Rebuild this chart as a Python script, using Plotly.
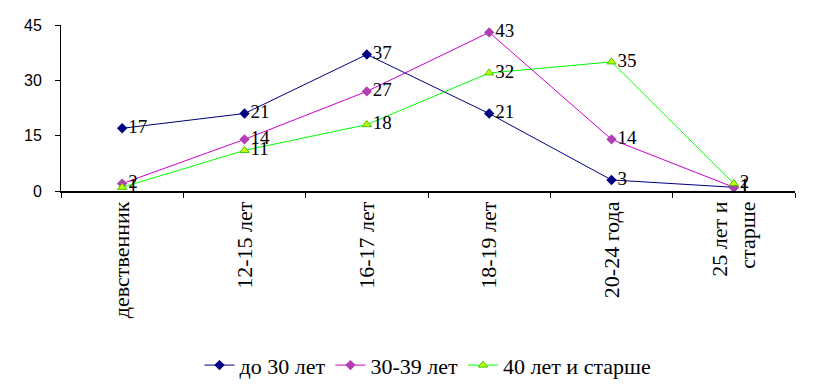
import plotly.graph_objects as go

categories = ["девственник", "12-15 лет", "16-17 лет", "18-19 лет", "20-24 года", "25 лет и<br>старше"]
series_names = ["до 30 лет", "30-39 лет", "40 лет и старше"]
s_under30 = [17, 21, 37, 21, 3, 1]
s_30_39 = [2, 14, 27, 43, 14, 1]
s_40plus = [1, 11, 18, 32, 35, 2]
y_ticks = [0, 15, 30, 45]

styles = [
    dict(line=dict(color="#000080", width=1), marker=dict(symbol="diamond", size=8, color="#000080")),
    dict(line=dict(color="#CC00CC", width=1), marker=dict(symbol="diamond", size=8, color="#B040B0")),
    dict(line=dict(color="#00FF00", width=1), marker=dict(symbol="triangle-up", size=8, color="#CCFF00",
                                                          line=dict(color="#33CC00", width=1))),
]

fig = go.Figure()
for name, vals, st in zip(series_names, [s_under30, s_30_39, s_40plus], styles):
    fig.add_trace(go.Scatter(
        x=categories, y=vals, name=name, mode="lines+markers+text",
        text=[str(v) for v in vals], textposition="middle right",
        textfont=dict(family="Liberation Serif", size=19, color="black"),
        cliponaxis=False, **st))

fig.update_layout(
    width=816, height=386,
    margin=dict(l=53, r=29, t=17, b=203, autoexpand=False),
    paper_bgcolor="white", plot_bgcolor="white",
    showlegend=True,
    legend=dict(orientation="h", x=0.5, xanchor="center", y=-1.05, yanchor="middle",
                font=dict(family="Liberation Serif", size=22, color="black"),
                itemwidth=30, tracegroupgap=0),
    xaxis=dict(type="category", range=[-0.5, 5.5], showline=True, linecolor="black", linewidth=1.5,
               ticks="outside", tickson="boundaries", ticklen=5, tickcolor="black",
               tickangle=-90, showgrid=False, zeroline=False, automargin=False,
               tickfont=dict(family="Liberation Serif", size=22, color="black")),
    yaxis=dict(range=[0, 45], tickvals=y_ticks, showline=True, linecolor="black", linewidth=1,
               ticks="outside", ticklen=5, tickcolor="black", showgrid=False, zeroline=False,
               automargin=False, ticklabelstandoff=10,
               tickfont=dict(family="Liberation Sans", size=16, color="black")),
)

fig.write_html("out.html")
